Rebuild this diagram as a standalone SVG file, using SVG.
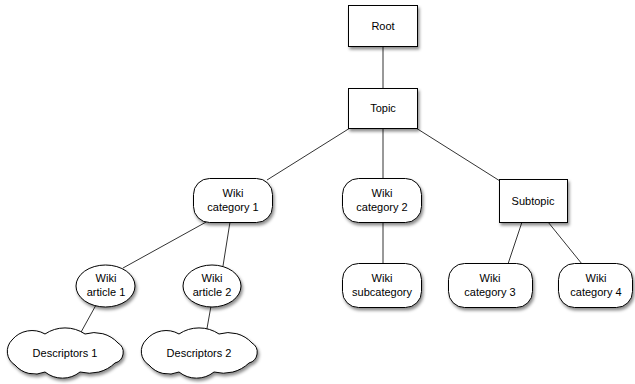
<svg xmlns="http://www.w3.org/2000/svg" width="635" height="384" viewBox="0 0 635 384">
<style>
.n{fill:#fff;stroke:#000;stroke-width:1;filter:url(#sh)}
.t{font-family:"Liberation Sans",Arial,sans-serif;font-size:11px;fill:#000;text-anchor:middle}
.c{stroke:#333;stroke-width:1;fill:none}
</style>
<defs>
<filter id="sh" x="-20%" y="-20%" width="150%" height="160%">
<feDropShadow dx="1.5" dy="2.5" stdDeviation="1.8" flood-color="#000" flood-opacity="0.45"/>
</filter>
<path id="cloud" d="M-53,-13 A26,26 0 0 1 -20,-19 A36,36 0 0 1 20,-19 A32,32 0 0 1 53,-10 A11,11 0 0 1 50,10 A37,37 0 0 1 15,19 A28,28 0 0 1 -20,19 A26,26 0 0 1 -50,12 A16,16 0 0 1 -53,-13 Z"/>
</defs>
<rect width="635" height="384" fill="#fff"/>
<g id="connectors" class="c">
<line x1="383" y1="46" x2="383" y2="88"/>
<line x1="350" y1="128" x2="267" y2="180"/>
<line x1="383" y1="128" x2="383" y2="178"/>
<line x1="416" y1="128" x2="500" y2="181"/>
<line x1="383" y1="222" x2="383" y2="263"/>
<line x1="522" y1="222" x2="508" y2="264"/>
<line x1="548" y1="222" x2="582" y2="264"/>
<line x1="208" y1="221" x2="123" y2="268"/>
<line x1="230" y1="222" x2="223" y2="266"/>
<line x1="96" y1="305" x2="80" y2="334"/>
<line x1="211" y1="306" x2="206" y2="334"/>
</g>
<g id="root"><rect class="n" x="348.5" y="5.5" width="69" height="41"/><text class="t" x="383" y="30">Root</text></g>
<g id="topic"><rect class="n" x="348.5" y="88.5" width="69" height="40"/><text class="t" x="383" y="112">Topic</text></g>
<g id="cat1"><rect class="n" x="193.5" y="178.5" width="79" height="44" rx="16" ry="16"/><text class="t" x="233" y="197">Wiki</text><text class="t" x="233" y="211">category 1</text></g>
<g id="cat2"><rect class="n" x="342.5" y="178.5" width="79" height="44" rx="16" ry="16"/><text class="t" x="382" y="197">Wiki</text><text class="t" x="382" y="211">category 2</text></g>
<g id="subtopic"><rect class="n" x="499.5" y="179.5" width="68" height="43"/><text class="t" x="533" y="205">Subtopic</text></g>
<g id="subcategory"><rect class="n" x="342.5" y="263.5" width="79" height="44" rx="16" ry="16"/><text class="t" x="382" y="282">Wiki</text><text class="t" x="382" y="296">subcategory</text></g>
<g id="cat3"><rect class="n" x="448.5" y="263.5" width="84" height="44" rx="16" ry="16"/><text class="t" x="490" y="282">Wiki</text><text class="t" x="490" y="296">category 3</text></g>
<g id="cat4"><rect class="n" x="558.5" y="263.5" width="74" height="44" rx="16" ry="16"/><text class="t" x="596" y="282">Wiki</text><text class="t" x="596" y="296">category 4</text></g>
<g id="article1"><ellipse class="n" cx="105.5" cy="286" rx="29.5" ry="21"/><text class="t" x="106" y="282">Wiki</text><text class="t" x="106" y="296">article 1</text></g>
<g id="article2"><ellipse class="n" cx="212" cy="286" rx="29" ry="21"/><text class="t" x="212" y="282">Wiki</text><text class="t" x="212" y="296">article 2</text></g>
<g id="desc1"><use href="#cloud" class="n" transform="translate(65,353)"/><text class="t" x="65" y="357">Descriptors 1</text></g>
<g id="desc2"><use href="#cloud" class="n" transform="translate(199,353)"/><text class="t" x="199" y="357">Descriptors 2</text></g>
</svg>
